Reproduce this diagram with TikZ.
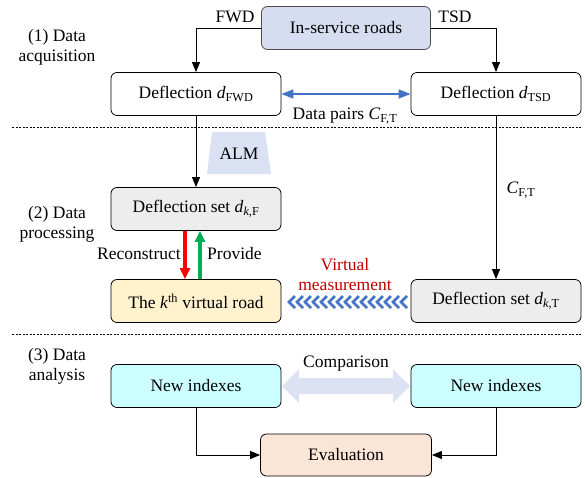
\documentclass[tikz,border=0pt]{standalone}
\usepackage{fontspec}
\setmainfont{Liberation Serif}
\usetikzlibrary{arrows.meta}
\definecolor{roadfill}{HTML}{D6DDF0}
\definecolor{setgray}{HTML}{EDEDED}
\definecolor{yellowfill}{HTML}{FFF2CC}
\definecolor{cyanfill}{HTML}{CCFFFF}
\definecolor{evalfill}{HTML}{FBE5D6}
\definecolor{almfill}{HTML}{D9E1F2}
\definecolor{cmpfill}{HTML}{DCE2F2}
\definecolor{myblue}{HTML}{4472C4}
\definecolor{myred}{HTML}{C00000}
\definecolor{mygreen}{HTML}{00B050}
\begin{document}
\begin{tikzpicture}[x=1pt,y=-1pt,
  font=\fontsize{17.5}{20}\selectfont,
  box/.style={draw, rounded corners=6pt, minimum width=170pt, minimum height=43pt, inner sep=0pt, line width=0.8pt},
  arr/.style={draw, line width=0.9pt, -{Triangle[length=10pt,width=8pt]}},
  sep/.style={dashed, dash pattern=on 2pt off 1.5pt, line width=0.8pt},
  lbl/.style={inner sep=1pt}]
\useasboundingbox (0,0) rectangle (585,477);

% nodes
\node[box, fill=roadfill, draw=black!70, minimum width=169pt] (road) at (346,28) {In-service roads};
\node[box, fill=white] (fwd) at (196,94) {Deflection \textit{d}\textsubscript{FWD}};
\node[box, fill=white] (tsd) at (496,94) {Deflection \textit{d}\textsubscript{TSD}};
\node[box, fill=setgray] (setF) at (196,209) {Deflection set \textit{d}\textsubscript{\textit{k},F}};
\node[box, fill=yellowfill] (vroad) at (196,301) {The \textit{k}\textsuperscript{th} virtual road};
\node[box, fill=setgray] (setT) at (496,301) {Deflection set \textit{d}\textsubscript{\textit{k},T}};
\node[box, fill=cyanfill] (niL) at (196,386) {New indexes};
\node[box, fill=cyanfill] (niR) at (496,386) {New indexes};
\node[box, fill=evalfill, minimum width=171pt, minimum height=42pt] (eval) at (346,455) {Evaluation};

% section labels
\node[lbl, align=center] (s1) at (57,47) {(1) Data\\acquisition};
\node[lbl, align=center] (s2) at (57,224) {(2) Data\\processing};
\node[lbl, align=center] (s3) at (57,366) {(3) Data\\analysis};

% dashed separators
\coordinate (d1a) at (12,127); \coordinate (d1b) at (581,127);
\coordinate (d2a) at (12,334); \coordinate (d2b) at (581,334);
\draw[sep] (d1a) -- (d1b);
\draw[sep] (d2a) -- (d2b);

% top connectors
\draw[arr] (road.west) -| (fwd.north);
\draw[arr] (road.east) -| (tsd.north);
\node[lbl] (lfwd) at (235,17) {FWD};
\node[lbl] (ltsd) at (455,17) {TSD};

% data pairs
\draw[myblue, line width=1.4pt, {Triangle[length=12pt,width=9pt]}-{Triangle[length=12pt,width=9pt]}] (fwd.east) -- (tsd.west);
\node[lbl] (dp) at (345,116) {Data pairs \textit{C}\textsubscript{F,T}};

% vertical arrows
\draw[arr] (fwd) -- (setF);
\draw[arr] (tsd) -- (setT);
\node[lbl] (cft) at (521,190) {\textit{C}\textsubscript{F,T}};

% ALM
\fill[almfill] (212,132) -- (265,132) -- (271,174) -- (207,174) -- cycle;
\node[lbl] (alm) at (239,154) {ALM};

% reconstruct / provide
\draw[red, line width=3.2pt, -{Triangle[length=11pt,width=10pt]}] ([xshift=-11pt]setF.south) -- ([xshift=-11pt]vroad.north);
\draw[mygreen, line width=3.2pt, -{Triangle[length=11pt,width=10pt]}] ([xshift=4pt]vroad.north) -- ([xshift=4pt]setF.south);
\node[lbl, anchor=east] (rec) at (182,254) {Reconstruct};
\node[lbl, anchor=west] (prov) at (206,254) {Provide};

% virtual measurement
\node[lbl, text=myred] (vm1) at (345,265) {Virtual};
\node[lbl, text=myred] (vm2) at (345,286) {measurement};
\foreach \i in {0,...,14} {
  \draw[myblue, line width=2.8pt] (289+\i*8+6,296) -- (289+\i*8,302) -- (289+\i*8+6,308);
}

% comparison
\fill[cmpfill] (282,386) -- (299,369) -- (299,378) -- (393,378) -- (393,369) -- (410,386) -- (393,403) -- (393,394) -- (299,394) -- (299,403) -- cycle;
\node[lbl] (cmp) at (346,364) {Comparison};

% evaluation
\draw[arr] (niL.south) |- (eval.west);
\draw[arr] (niR.south) |- (eval.east);
\end{tikzpicture}
\end{document}
